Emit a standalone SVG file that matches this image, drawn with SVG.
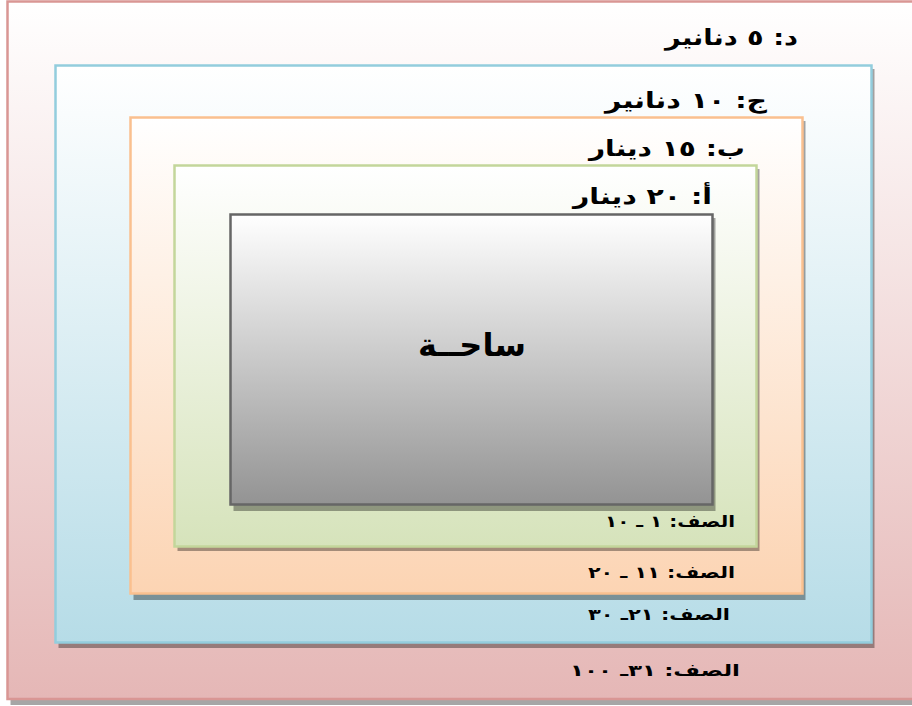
<svg xmlns="http://www.w3.org/2000/svg" width="912" height="706" viewBox="0 0 912 706">
<defs>
<linearGradient id="gR" x1="0" y1="0" x2="0" y2="1"><stop offset="0" stop-color="#ffffff"/><stop offset="1" stop-color="#e5b7b6"/></linearGradient>
<linearGradient id="gB" x1="0" y1="0" x2="0" y2="1"><stop offset="0" stop-color="#ffffff"/><stop offset="1" stop-color="#b6dce7"/></linearGradient>
<linearGradient id="gO" x1="0" y1="0" x2="0" y2="1"><stop offset="0" stop-color="#ffffff"/><stop offset="1" stop-color="#fcd4b3"/></linearGradient>
<linearGradient id="gG" x1="0" y1="0" x2="0" y2="1"><stop offset="0" stop-color="#ffffff"/><stop offset="1" stop-color="#d6e3bb"/></linearGradient>
<linearGradient id="gK" x1="0" y1="0" x2="0" y2="1"><stop offset="0" stop-color="#ffffff"/><stop offset="1" stop-color="#939393"/></linearGradient>
</defs>
<style>
.sh{fill:#000;opacity:0.35}
.lbl{font-family:"DejaVu Sans","Noto Sans",sans-serif;font-weight:bold;fill:#000}
.big{font-size:22px}
.row{font-size:16px}
</style>
<g id="zone-d">
<rect class="sh" x="10.5" y="5" width="905" height="700"/>
<rect x="7.5" y="1.5" width="910" height="697.5" fill="url(#gR)" stroke="#d99694" stroke-width="2.5"/>
<text class="lbl big" x="798" y="45" direction="rtl" text-anchor="start" textLength="133" lengthAdjust="spacingAndGlyphs">د: ٥ دنانير</text>
<text class="lbl row" x="740" y="676" direction="rtl" text-anchor="start" textLength="170" lengthAdjust="spacingAndGlyphs">الصف: ٣١ـ ١٠٠</text>
</g>
<g id="zone-c">
<rect class="sh" x="58.5" y="69" width="816" height="579"/>
<rect x="55.5" y="65.5" width="816" height="577" fill="url(#gB)" stroke="#93cddd" stroke-width="2.5"/>
<text class="lbl big" x="767" y="108" direction="rtl" text-anchor="start" textLength="162" lengthAdjust="spacingAndGlyphs">ج: ١٠ دنانير</text>
<text class="lbl row" x="730" y="620" direction="rtl" text-anchor="start" textLength="142" lengthAdjust="spacingAndGlyphs">الصف: ٢١ـ ٣٠</text>
</g>
<g id="zone-b">
<rect class="sh" x="133.5" y="121" width="672" height="479"/>
<rect x="130.5" y="117.5" width="672" height="476" fill="url(#gO)" stroke="#fac08f" stroke-width="2.5"/>
<text class="lbl big" x="745" y="156" direction="rtl" text-anchor="start" textLength="156" lengthAdjust="spacingAndGlyphs">ب: ١٥ دينار</text>
<text class="lbl row" x="735" y="578" direction="rtl" text-anchor="start" textLength="147" lengthAdjust="spacingAndGlyphs">الصف: ١١ ـ ٢٠</text>
</g>
<g id="zone-a">
<rect class="sh" x="177.5" y="169" width="582" height="382"/>
<rect x="174.5" y="165.5" width="582" height="381" fill="url(#gG)" stroke="#c3d69b" stroke-width="2.5"/>
<text class="lbl big" x="712" y="204" direction="rtl" text-anchor="start" textLength="139" lengthAdjust="spacingAndGlyphs">أ: ٢٠ دينار</text>
<text class="lbl row" x="735" y="527" direction="rtl" text-anchor="start" textLength="130" lengthAdjust="spacingAndGlyphs">الصف: ١ ـ ١٠</text>
</g>
<g id="stage">
<rect class="sh" x="233.5" y="218" width="482" height="293"/>
<rect x="230.5" y="214.5" width="482" height="290" fill="url(#gK)" stroke="#666666" stroke-width="2.5"/>
<text class="lbl" font-size="32" x="472" y="356" text-anchor="middle" direction="rtl">ساحــة</text>
</g>
<g id="connectors"/>
</svg>
